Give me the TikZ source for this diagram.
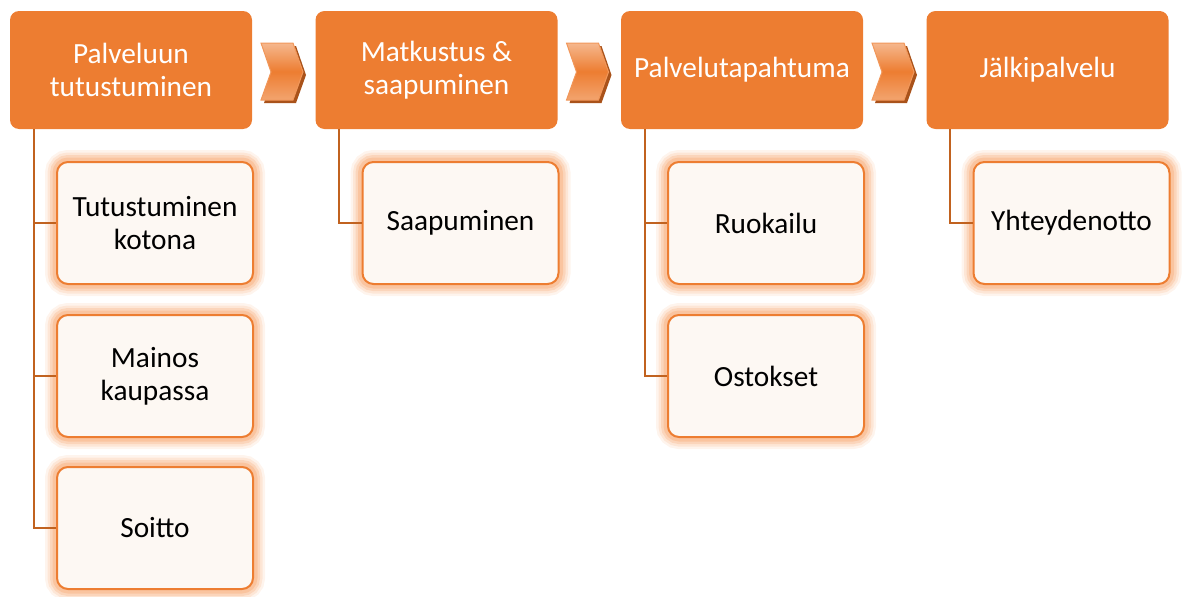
\documentclass[tikz,border=0pt]{standalone}
\usepackage{fontspec}
\setmainfont{Carlito}
\definecolor{phaseorange}{HTML}{ED7D31}
\definecolor{linkbrown}{HTML}{C1621F}
\definecolor{taskfill}{HTML}{FDF8F3}
\definecolor{glow}{HTML}{F7A46A}
\definecolor{chevdark}{HTML}{A9521A}
\begin{document}
\begin{tikzpicture}[x=1pt,y=-1pt,
    phase/.style={rectangle, rounded corners=9pt, fill=phaseorange, text=white,
        minimum width=242pt, minimum height=118pt, inner sep=0pt, align=center,
        font=\fontsize{29.3}{33}\selectfont},
    task/.style={rectangle, rounded corners=11pt, draw=phaseorange, line width=2pt,
        fill=taskfill, minimum width=196pt, minimum height=122pt, inner sep=0pt,
        align=center, font=\fontsize{29.3}{33}\selectfont,
        preaction={draw=glow, line width=24pt, opacity=0.12},
        preaction={draw=glow, line width=19pt, opacity=0.18},
        preaction={draw=glow, line width=14pt, opacity=0.25},
        preaction={draw=glow, line width=9pt, opacity=0.35}},
    link/.style={draw=linkbrown, line width=2pt}]
    \useasboundingbox (0,0) rectangle (1186,597);

    % vaiheet
    \node[phase] (p1) at (131,70) {Palveluun\\tutustuminen};
    \node[phase] (p2) at (436.5,70) {Matkustus \&\\saapuminen};
    \node[phase] (p3) at (742,70) {Palvelutapahtuma};
    \node[phase] (p4) at (1047.5,70) {Jälkipalvelu};

    % nuolet vaiheiden välissä
    \foreach \cx in {282,587.5,893}{
        \begin{scope}[shift={(\cx,72)}]
            \fill[chevdark] (-18,-26) -- (14,-26) -- (24,3) -- (14,31) -- (-18,31) -- (-8,3) -- cycle;
            \draw[draw=phaseorange!80!white, line width=1pt, top color=phaseorange!55!white,
                bottom color=phaseorange!70!white, middle color=phaseorange]
                (-21,-29) -- (11,-29) -- (21,0) -- (11,28) -- (-21,28) -- (-11,0) -- cycle;
        \end{scope}
    }

    % tehtävät
    \node[task] (t11) at (155,223) {Tutustuminen\\kotona};
    \node[task] (t12) at (155,376) {Mainos\\kaupassa};
    \node[task] (t13) at (155,528) {Soitto};
    \node[task] (t21) at (460.5,223) {Saapuminen};
    \node[task] (t31) at (766,223) {Ruokailu};
    \node[task] (t32) at (766,376) {Ostokset};
    \node[task] (t41) at (1071.5,223) {Yhteydenotto};

    % yhteydet
    \draw[link] ([xshift=24pt]p1.south west) |- (t11.west);
    \draw[link] ([xshift=24pt]p1.south west) |- (t12.west);
    \draw[link] ([xshift=24pt]p1.south west) |- (t13.west);
    \draw[link] ([xshift=24pt]p2.south west) |- (t21.west);
    \draw[link] ([xshift=24pt]p3.south west) |- (t31.west);
    \draw[link] ([xshift=24pt]p3.south west) |- (t32.west);
    \draw[link] ([xshift=24pt]p4.south west) |- (t41.west);
\end{tikzpicture}
\end{document}
